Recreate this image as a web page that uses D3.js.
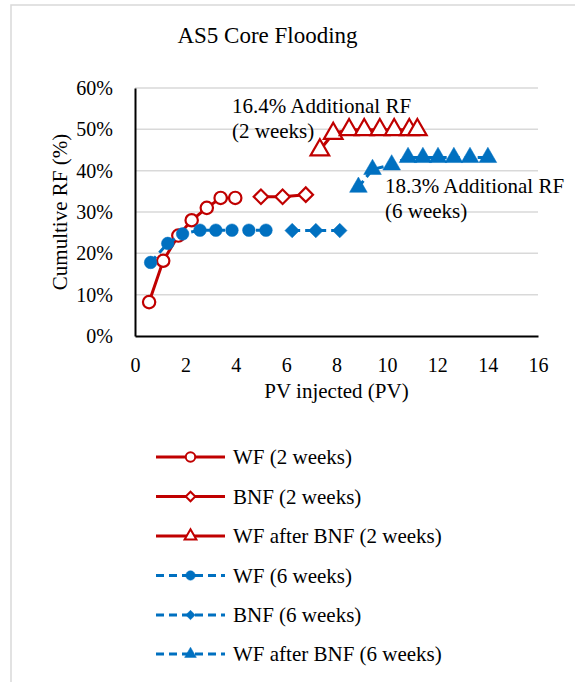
<!DOCTYPE html>
<html>
<head>
<meta charset="utf-8">
<script src="https://d3js.org/d3.v7.min.js"></script>
<style>
  body { margin: 0; background: #fff; }
  text { font-family: "Liberation Serif", "Times New Roman", serif; fill: #000; }
</style>
</head>
<body>
<div id="chart"></div>
<script>
// data (PV injected, cumulative RF in %)
var wf2Pv = [0.56, 1.12, 1.72, 2.25, 2.85, 3.40, 3.98];
var wf2Rf = [8.2, 18.2, 24.3, 28.0, 31.0, 33.4, 33.4];

var bnf2Pv = [5.0, 5.86, 6.78];
var bnf2Rf = [33.7, 33.7, 34.2];

var wfa2Pv = [7.34, 7.87, 8.50, 9.10, 9.72, 10.29, 10.89, 11.21];
var wfa2Rf = [45.0, 49.0, 49.9, 49.9, 49.9, 49.9, 49.9, 49.9];

var wf6Pv = [0.62, 1.30, 1.89, 2.58, 3.21, 3.85, 4.52, 5.20];
var wf6Rf = [17.8, 22.4, 24.7, 25.6, 25.6, 25.6, 25.6, 25.6];

var bnf6Pv = [6.24, 7.18, 8.13];
var bnf6Rf = [25.5, 25.5, 25.5];

var wfa6Pv = [8.87, 9.43, 10.19, 10.84, 11.43, 12.03, 12.66, 13.30, 14.01];
var wfa6Rf = [36.0, 40.3, 41.4, 43.2, 43.2, 43.2, 43.2, 43.2, 43.2];

var xTicks = [0, 2, 4, 6, 8, 10, 12, 14, 16];
var yTicks = [0, 10, 20, 30, 40, 50, 60];

var seriesNames = ["WF (2 weeks)", "BNF (2 weeks)", "WF after BNF (2 weeks)",
  "WF (6 weeks)", "BNF (6 weeks)", "WF after BNF (6 weeks)"];

var red = "#C00000", blue = "#0070C0";

var series = [
  { name: seriesNames[0], pv: wf2Pv, rf: wf2Rf, color: red, marker: "circle", fill: "#fff", dash: null },
  { name: seriesNames[1], pv: bnf2Pv, rf: bnf2Rf, color: red, marker: "diamond", fill: "#fff", dash: null },
  { name: seriesNames[2], pv: wfa2Pv, rf: wfa2Rf, color: red, marker: "triangle", fill: "#fff", dash: null },
  { name: seriesNames[3], pv: wf6Pv, rf: wf6Rf, color: blue, marker: "circle", fill: blue, dash: "8,5" },
  { name: seriesNames[4], pv: bnf6Pv, rf: bnf6Rf, color: blue, marker: "diamond", fill: blue, dash: "8,5" },
  { name: seriesNames[5], pv: wfa6Pv, rf: wfa6Rf, color: blue, marker: "triangle", fill: blue, dash: "8,5" }
];

var W = 575, H = 682;
var plot = { left: 135, right: 538, top: 88, bottom: 336 };

var svg = d3.select("#chart")
  .append("svg")
  .attr("width", W)
  .attr("height", H);

// outer chart border (runs off the right / bottom edge)
svg.append("rect")
  .attr("x", 11).attr("y", 5)
  .attr("width", W).attr("height", H)
  .attr("fill", "#fff")
  .attr("stroke", "#D9D9D9")
  .attr("stroke-width", 1.5);

var x = d3.scaleLinear().domain([0, 16]).range([plot.left, plot.right]);
var y = d3.scaleLinear().domain([0, 60]).range([plot.bottom, plot.top]);

// title
svg.append("text")
  .attr("x", 267.5).attr("y", 43)
  .attr("text-anchor", "middle")
  .attr("font-size", "23px")
  .text("AS5 Core Flooding");

// gridlines
svg.append("g")
  .selectAll("line")
  .data(yTicks.filter(d => d > 0))
  .enter()
  .append("line")
  .attr("x1", plot.left).attr("x2", plot.right)
  .attr("y1", d => y(d)).attr("y2", d => y(d))
  .attr("stroke", "#D9D9D9")
  .attr("stroke-width", 1.5);

// y axis
var yAxis = svg.append("g")
  .attr("transform", "translate(" + plot.left + ",0)")
  .call(d3.axisLeft(y).tickValues(yTicks).tickSize(0).tickPadding(22).tickFormat(d => d + "%"));
yAxis.select(".domain").attr("stroke", "#000").attr("stroke-width", 2);
yAxis.selectAll("text").attr("font-size", "20px").attr("dy", "0.33em")
  .style("font-family", '"Liberation Serif", "Times New Roman", serif');

// x axis
var xAxis = svg.append("g")
  .attr("transform", "translate(0," + plot.bottom + ")")
  .call(d3.axisBottom(x).tickValues(xTicks).tickSize(0).tickPadding(22).tickFormat(d3.format("d")));
xAxis.select(".domain").attr("stroke", "#000").attr("stroke-width", 2);
xAxis.selectAll("text").attr("font-size", "20px").attr("dy", "0.68em")
  .style("font-family", '"Liberation Serif", "Times New Roman", serif');

// axis titles
svg.append("text")
  .attr("x", (plot.left + plot.right) / 2).attr("y", 398)
  .attr("text-anchor", "middle")
  .attr("font-size", "21px")
  .text("PV injected (PV)");

svg.append("text")
  .attr("transform", "translate(67," + (plot.top + plot.bottom) / 2 + ") rotate(-90)")
  .attr("text-anchor", "middle")
  .attr("font-size", "21px")
  .text("Cumultive RF (%)");

function symbolFor(m, size) {
  var t = m === "circle" ? d3.symbolCircle : m === "diamond" ? d3.symbolSquare : d3.symbolTriangle;
  return d3.symbol().type(t).size(size)();
}
function markerTransform(m, px, py) {
  return "translate(" + px + "," + py + ")" + (m === "diamond" ? " rotate(45)" : "");
}

var line = d3.line().x(d => x(d[0])).y(d => y(d[1]));

// series lines and markers
series.forEach(function (s) {
  var pts = s.pv.map((v, i) => [v, s.rf[i]]);
  var g = svg.append("g");
  g.append("path")
    .datum(pts)
    .attr("d", line)
    .attr("fill", "none")
    .attr("stroke", s.color)
    .attr("stroke-width", 3)
    .attr("stroke-dasharray", s.dash);
  var size = s.marker === "circle" ? (s.fill === "#fff" ? 120 : 125) : s.marker === "diamond" ? 105 : (s.fill === "#fff" ? 150 : 135);
  g.selectAll("path.m")
    .data(pts)
    .enter()
    .append("path")
    .attr("class", "m")
    .attr("d", symbolFor(s.marker, size))
    .attr("transform", d => markerTransform(s.marker, x(d[0]), y(d[1])))
    .attr("fill", s.fill)
    .attr("stroke", s.color)
    .attr("stroke-width", s.fill === "#fff" ? 2.2 : 0.5);
});

// annotations
var notes = [
  { x: 232, y: 113, lines: ["16.4% Additional RF", "(2 weeks)"] },
  { x: 385, y: 193, lines: ["18.3% Additional RF", "(6 weeks)"] }
];
notes.forEach(function (n) {
  n.lines.forEach(function (t, i) {
    svg.append("text")
      .attr("x", n.x).attr("y", n.y + i * 25)
      .attr("font-size", "21px")
      .text(t);
  });
});

// legend
var legY = [457, 496.5, 536, 575.5, 615, 654];
var leg = svg.append("g")
  .selectAll("g")
  .data(series)
  .enter()
  .append("g")
  .attr("transform", (d, i) => "translate(0," + legY[i] + ")");
leg.append("line")
  .attr("x1", 156).attr("x2", 225)
  .attr("stroke", d => d.color)
  .attr("stroke-width", 3)
  .attr("stroke-dasharray", d => d.dash);
leg.append("path")
  .attr("d", d => symbolFor(d.marker, d.marker === "circle" ? 70 : d.marker === "diamond" ? 45 : 60))
  .attr("transform", d => markerTransform(d.marker, 190.5, 0))
  .attr("fill", d => d.fill)
  .attr("stroke", d => d.color)
  .attr("stroke-width", d => d.fill === "#fff" ? 2 : 0.5);
leg.append("text")
  .attr("x", 233).attr("y", 7)
  .attr("font-size", "21px")
  .text(d => d.name);
</script>
</body>
</html>
